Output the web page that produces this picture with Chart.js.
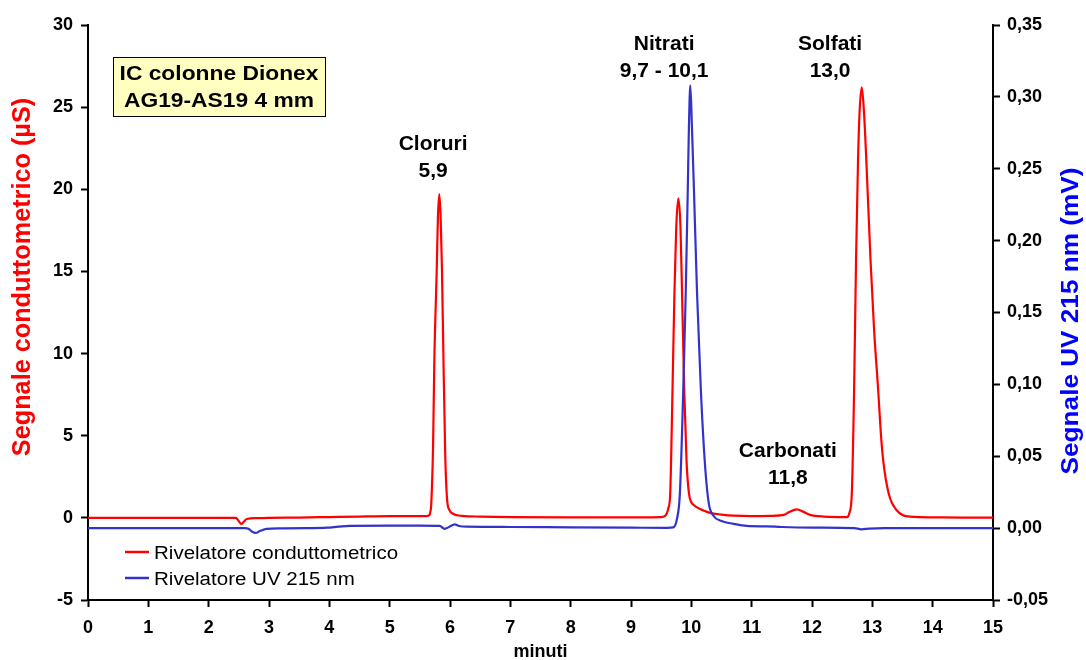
<!DOCTYPE html>
<html><head><meta charset="utf-8">
<script src="https://cdn.jsdelivr.net/npm/chart.js@4"></script>
<style>html,body{margin:0;padding:0;background:#fff}</style>
</head><body>
<canvas id="c" width="1086" height="660"></canvas>
<script>
// ---- data ----
const condTime = [
  0,0.5,1,1.5,2,2.45,2.5,2.54,2.58,2.63,
  2.8,3,3.5,4,4.5,5,5.45,5.6,5.65,5.67,
  5.69,5.72,5.74,5.78,5.8,5.823,5.845,5.867,5.89,5.92,
  5.95,5.99,6.05,6.2,6.5,7,8,9,9.5,9.56,
  9.62,9.65,9.687,9.72,9.75,9.785,9.82,9.846,9.884,9.92,
  9.96,10,10.05,10.1,10.2,10.31,10.5,10.7,11,11.3,
  11.53,11.62,11.745,11.85,11.97,12.2,12.58,12.62,12.66,12.697,
  12.73,12.763,12.79,12.825,12.86,12.9,12.97,13.03,13.1,13.14,
  13.18,13.27,13.4,13.63,14,14.5,15];
const condSignal = [
  0,0,0,0,0,0,-0.2,-0.37,-0.25,-0.07,
  -0.02,0,0.02,0.05,0.08,0.1,0.1,0.1,0.15,0.3,
  0.9,4.5,9.5,15.1,18.3,19.7,18.3,15.1,10,4,
  1.2,0.48,0.25,0.12,0.08,0.05,0.03,0.03,0.05,0.1,
  0.6,1.5,7.6,13.7,17.7,19.45,17.7,13.7,7.6,3.5,
  1.5,0.95,0.75,0.62,0.45,0.3,0.2,0.13,0.1,0.12,
  0.18,0.35,0.52,0.38,0.18,0.08,0.05,0.3,1.5,7.6,
  15.7,21.8,24.8,26.2,24.8,21.8,15.7,11.4,7.6,5.2,
  3.5,1.5,0.48,0.07,0.03,0.02,0.02];
const uvTime = [
  0,1,2,2.6,2.66,2.72,2.78,2.85,2.96,3.2,
  3.6,3.96,4.15,4.34,5,5.5,5.83,5.91,5.99,6.08,
  6.15,6.28,7,8,9,9.6,9.7,9.76,9.81,9.865,
  9.907,9.94,9.96,9.983,10.01,10.045,10.095,10.16,10.23,10.29,
  10.36,10.5,10.7,10.92,11.25,11.5,12,12.7,12.82,12.95,
  13.2,14,15];
const uvSignal = [
  0,0,0,0,-0.0005,-0.0025,-0.0033,-0.002,-0.0005,-0.0002,
  0,0.0003,0.001,0.0016,0.0017,0.0017,0.0015,-0.0005,0.001,0.0026,
  0.0015,0.001,0.0008,0.0005,0.0003,0.0002,0.0005,0.006,0.024,0.094,
  0.163,0.233,0.279,0.308,0.279,0.233,0.163,0.094,0.042,0.017,
  0.009,0.005,0.003,0.0015,0.0012,0.0008,0.0004,0,-0.0008,-0.0003,
  0,0,0];
const xTickValues = [0,1,2,3,4,5,6,7,8,9,10,11,12,13,14,15];
const leftTickValues = [-5,0,5,10,15,20,25,30];
const rightTickValues = [-0.05,0,0.05,0.1,0.15,0.2,0.25,0.3,0.35];
const seriesNames = ['Rivelatore conduttometrico','Rivelatore UV 215 nm'];
const peakNames = ['Cloruri','Nitrati','Solfati','Carbonati'];
const peakTimes = ['5,9','9,7 - 10,1','13,0','11,8'];
const peakLabelX = [5.72,9.55,12.30,11.60];
const peakLabelY = [22.39,28.47,28.47,3.71];
const boxLines = ['IC colonne Dionex','AG19-AS19 4 mm'];

const FONT = "'Liberation Sans', Arial, sans-serif";
const RED = '#FF0000', BLUE = '#3333CC';

const toPts = (xs, ys) => xs.map((x, i) => ({x, y: ys[i]}));
const fmt = v => { if (Math.abs(v) < 1e-9) v = 0; return v.toFixed(2).replace('.', ','); };

function axisStyle(extra) {
  return Object.assign({
    grid: {display: true, drawOnChartArea: false, drawTicks: true, tickLength: 7, tickWidth: 2, tickColor: '#000'},
    border: {display: true, color: '#000', width: 2},
  }, extra);
}

function stretchedText(ctx, text, x, y, sx, rot) {
  ctx.save();
  ctx.translate(x, y);
  if (rot) ctx.rotate(rot);
  ctx.scale(sx, 1);
  ctx.fillText(text, 0, 0);
  ctx.restore();
}

const decor = {
  id: 'decor',
  afterDraw(chart) {
    const ctx = chart.ctx, ca = chart.chartArea;
    const xs = chart.scales.x, yl = chart.scales.y;
    // axis titles
    ctx.save();
    ctx.textAlign = 'center';
    ctx.textBaseline = 'middle';
    ctx.font = 'bold 25px ' + FONT;
    ctx.fillStyle = RED;
    stretchedText(ctx, 'Segnale conduttometrico (µS)', 23, 277, 1.01, -Math.PI / 2);
    ctx.font = 'bold 24px ' + FONT;
    ctx.fillStyle = '#0000FF';
    stretchedText(ctx, 'Segnale UV 215 nm (mV)', 1071, 321, 1.09, -Math.PI / 2);
    ctx.fillStyle = '#000';
    ctx.font = 'bold 18px ' + FONT;
    stretchedText(ctx, 'minuti', (ca.left + ca.right) / 2, 652, 1);
    ctx.restore();

    // peak annotations
    ctx.save();
    ctx.fillStyle = '#000';
    ctx.textAlign = 'center';
    ctx.textBaseline = 'alphabetic';
    ctx.font = 'bold 21px ' + FONT;
    peakNames.forEach((n, i) => {
      const px = xs.getPixelForValue(peakLabelX[i]);
      const py = yl.getPixelForValue(peakLabelY[i]);
      ctx.fillText(n, px, py);
      ctx.fillText(peakTimes[i], px, py + 27);
    });
    ctx.restore();

    // info box
    ctx.save();
    const bx = ca.left + 25, by = ca.top + 32, bw = 212, bh = 59;
    ctx.fillStyle = '#FFFFC0';
    ctx.fillRect(bx, by, bw, bh);
    ctx.strokeStyle = '#000';
    ctx.lineWidth = 1;
    ctx.strokeRect(bx + 0.5, by + 0.5, bw, bh);
    ctx.fillStyle = '#000';
    ctx.textAlign = 'center';
    ctx.textBaseline = 'alphabetic';
    ctx.font = 'bold 20px ' + FONT;
    stretchedText(ctx, boxLines[0], bx + bw / 2, by + 23, 1.14);
    stretchedText(ctx, boxLines[1], bx + bw / 2, by + 50, 1.14);
    ctx.restore();

    // legend
    ctx.save();
    const colors = [RED, BLUE];
    ctx.font = '18px ' + FONT;
    ctx.textAlign = 'left';
    ctx.textBaseline = 'alphabetic';
    seriesNames.forEach((n, i) => {
      const ly = ca.bottom - 48 + i * 26;
      ctx.strokeStyle = colors[i];
      ctx.lineWidth = 2.5;
      ctx.beginPath();
      ctx.moveTo(ca.left + 37, ly);
      ctx.lineTo(ca.left + 61, ly);
      ctx.stroke();
      ctx.fillStyle = '#000';
      stretchedText(ctx, n, ca.left + 66, ly + 6.5, 1.14);
    });
    ctx.restore();
  }
};

new Chart(document.getElementById('c'), {
  type: 'line',
  data: {
    datasets: [
      {label: seriesNames[0], data: toPts(condTime, condSignal), yAxisID: 'y', borderColor: RED, borderWidth: 2.2, pointRadius: 0, cubicInterpolationMode: 'monotone', order: 2},
      {label: seriesNames[1], data: toPts(uvTime, uvSignal), yAxisID: 'y2', borderColor: BLUE, borderWidth: 2.2, pointRadius: 0, cubicInterpolationMode: 'monotone', order: 1}
    ]
  },
  options: {
    responsive: false,
    animation: false,
    layout: {padding: {top: 25, left: 0, right: 0, bottom: 0}},
    plugins: {legend: {display: false}, tooltip: {enabled: false}},
    scales: {
      x: axisStyle({
        type: 'linear', min: 0, max: 15, position: 'bottom',
        afterBuildTicks: s => { s.ticks = xTickValues.map(v => ({value: v})); },
        afterFit: s => { s.height = 60; },
        ticks: {color: '#000', font: {family: FONT, size: 18, weight: 'bold'}, padding: 10, maxRotation: 0, callback: v => String(v)}
      }),
      y: axisStyle({
        type: 'linear', min: -5, max: 30, position: 'left',
        afterBuildTicks: s => { s.ticks = leftTickValues.map(v => ({value: v})); },
        afterFit: s => { s.width = 88; },
        ticks: {color: '#000', font: {family: FONT, size: 18, weight: 'bold'}, padding: 8, callback: v => String(v)}
      }),
      y2: axisStyle({
        type: 'linear', min: -0.05, max: 0.35, position: 'right',
        afterBuildTicks: s => { s.ticks = rightTickValues.map(v => ({value: v})); },
        afterFit: s => { s.width = 93; },
        ticks: {color: '#000', font: {family: FONT, size: 18, weight: 'bold'}, padding: 7, callback: v => fmt(v)}
      })
    }
  },
  plugins: [decor]
});
</script>
</body></html>
